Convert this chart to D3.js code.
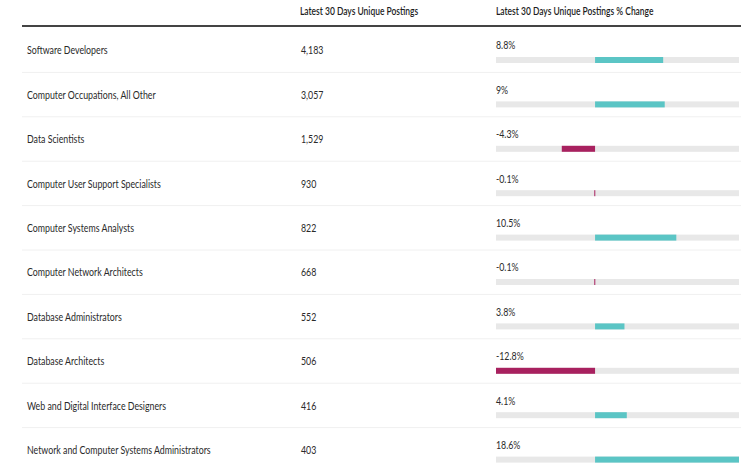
<!DOCTYPE html>
<html>
<head>
<meta charset="utf-8">
<script src="https://cdn.jsdelivr.net/npm/d3@7"></script>
<style>
  body { margin: 0; background: #fff; }
  text { font-family: Lato, "Open Sans", sans-serif; }
</style>
</head>
<body>
<div id="chart"></div>
<script>
const occupations = [
  "Software Developers",
  "Computer Occupations, All Other",
  "Data Scientists",
  "Computer User Support Specialists",
  "Computer Systems Analysts",
  "Computer Network Architects",
  "Database Administrators",
  "Database Architects",
  "Web and Digital Interface Designers",
  "Network and Computer Systems Administrators"
];
const postings = [4183, 3057, 1529, 930, 822, 668, 552, 506, 416, 403];
const pctChange = [8.8, 9, -4.3, -0.1, 10.5, -0.1, 3.8, -12.8, 4.1, 18.6];
const headers = ["Latest 30 Days Unique Postings", "Latest 30 Days Unique Postings % Change"];

const width = 745, height = 467;
const sx = 0.8; // text looks horizontally squeezed in the source

const svg = d3.select("#chart").append("svg")
  .attr("width", width)
  .attr("height", height);

const rowH = 44.4;
const y = d3.scaleBand()
  .domain(occupations)
  .range([28, 28 + rowH * occupations.length]);

const x = d3.scaleLinear()
  .domain(d3.extent(pctChange))
  .range([496, 739]);

const fmt = d3.format(",");

function txt(g, tx, ty, s, k) {
  return g.append("text")
    .attr("transform", `translate(${tx},${ty}) scale(${k || sx},1)`)
    .attr("dominant-baseline", "central")
    .text(s);
}

// header
const head = svg.append("g").attr("fill", "#1e1e1e").attr("font-size", 11).attr("font-weight", 600);
txt(head, 300, 11, headers[0], 0.77);
txt(head, 496, 11, headers[1], 0.77);

svg.append("line")
  .attr("x1", 22).attr("x2", 741)
  .attr("y1", 26).attr("y2", 26)
  .attr("stroke", "#444")
  .attr("stroke-width", 2);

// rows
const rows = svg.append("g").selectAll("g")
  .data(occupations)
  .join("g")
    .attr("transform", d => `translate(0,${y(d)})`);

rows.append("line")
  .attr("x1", 22).attr("x2", 741)
  .attr("y1", y.bandwidth()).attr("y2", y.bandwidth())
  .attr("stroke", "#f0f0f0");

rows.each(function(d, i) {
  const g = d3.select(this).attr("fill", "#2a2a2a").attr("font-size", 11);
  txt(g, 27, 22, d);
  txt(g, 301, 22, fmt(postings[i]));
  txt(g, 496, 17, pctChange[i] + "%");

  // grey track
  g.append("rect")
    .attr("x", x.range()[0])
    .attr("y", 29)
    .attr("width", x.range()[1] - x.range()[0])
    .attr("height", 6)
    .attr("fill", "#e8e8e8");

  const v = pctChange[i];
  g.append("rect")
    .attr("x", Math.min(x(0), x(v)))
    .attr("y", 29)
    .attr("width", Math.max(1, Math.abs(x(v) - x(0))))
    .attr("height", 6)
    .attr("fill", v < 0 ? "#a8215f" : "#5bc5c5");
});
</script>
</body>
</html>
